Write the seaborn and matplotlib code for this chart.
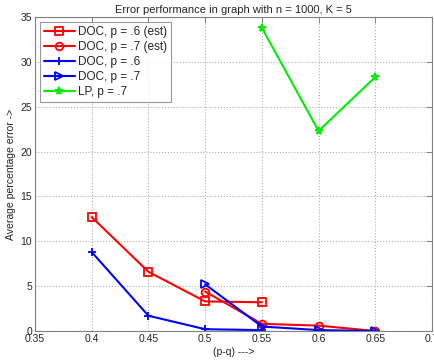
import numpy as np
import pandas as pd
import matplotlib
matplotlib.use("Agg")
import matplotlib.pyplot as plt
import seaborn as sns

# data
x_doc6_est = [0.40, 0.45, 0.50, 0.55]
y_doc6_est = [12.7, 6.6, 3.3, 3.2]

x_doc7_est = [0.50, 0.55, 0.60, 0.65]
y_doc7_est = [4.4, 0.8, 0.6, 0.0]

x_doc6 = [0.40, 0.45, 0.50, 0.55]
y_doc6 = [8.8, 1.7, 0.2, 0.1]

x_doc7 = [0.50, 0.55, 0.60, 0.65]
y_doc7 = [5.2, 0.5, 0.1, 0.0]

x_lp7 = [0.55, 0.60, 0.65]
y_lp7 = [33.8, 22.3, 28.3]

series = [
    ("DOC, p = .6 (est)", x_doc6_est, y_doc6_est, "#ff0000", "s", "none"),
    ("DOC, p = .7 (est)", x_doc7_est, y_doc7_est, "#ff0000", "o", "none"),
    ("DOC, p = .6", x_doc6, y_doc6, "#0000ff", "+", None),
    ("DOC, p = .7", x_doc7, y_doc7, "#0000ff", ">", "none"),
    ("LP, p = .7", x_lp7, y_lp7, "#00ee00", "*", None),
]

sns.set_style("white")
plt.rcParams['font.family'] = ['Liberation Sans', 'DejaVu Sans']

fig = plt.figure(figsize=(4.35, 3.6), dpi=100)
ax = fig.add_axes([35 / 435, 29 / 360, 397 / 435, 314 / 360])

for label, xs, ys, col, mk, mfc in series:
    df = pd.DataFrame({"x": xs, "y": ys})
    kw = dict(markerfacecolor=mfc) if mfc else dict(markerfacecolor=col)
    sns.lineplot(data=df, x="x", y="y", ax=ax, color=col, marker=mk,
                 markersize=5.5, markeredgewidth=1.3, markeredgecolor=col,
                 linewidth=1.5, label=label, **kw)

ax.set_xlim(0.35, 0.7)
ax.set_ylim(0, 35)
ax.set_xticks([0.35, 0.4, 0.45, 0.5, 0.55, 0.6, 0.65, 0.7])
ax.set_xticklabels(["0.35", "0.4", "0.45", "0.5", "0.55", "0.6", "0.65", "0.7"])
ax.set_yticks([0, 5, 10, 15, 20, 25, 30, 35])
ax.grid(True, linestyle=":", color="#b0b0b0", linewidth=0.8)
ax.tick_params(direction="in", length=4, width=0.6, color="#707070",
               labelsize=7.5, top=True, right=True, pad=2)
for sp in ax.spines.values():
    sp.set_color("#808080")
    sp.set_linewidth(0.8)

ax.set_xlabel("(p-q) --->", fontsize=7.5, labelpad=2)
ax.set_ylabel("Average percentage error ->", fontsize=7.5, labelpad=3)
ax.set_title("Error performance in graph with n = 1000, K = 5", fontsize=8, pad=3)

leg = ax.legend(loc="upper left", fontsize=8.5, frameon=True, fancybox=False,
                borderpad=0.35, handlelength=2.6, labelspacing=0.25,
                handletextpad=0.3, borderaxespad=0.4)
leg.get_frame().set_edgecolor("#808080")
leg.get_frame().set_linewidth(0.8)

fig.savefig("out.png", dpi=100)
